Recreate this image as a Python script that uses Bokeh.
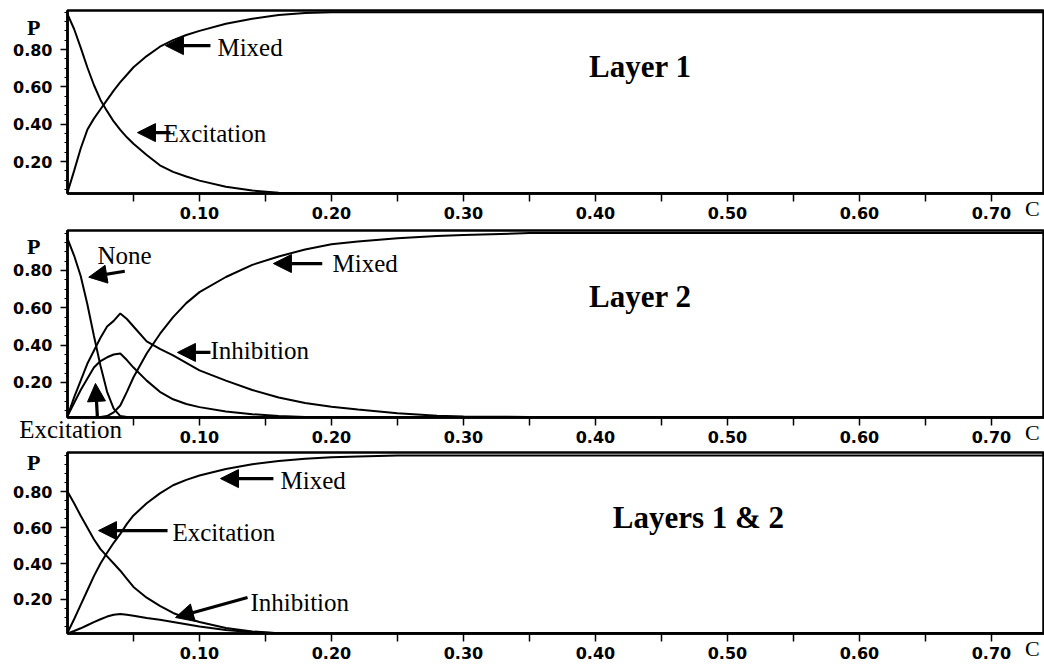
from bokeh.plotting import figure
from bokeh.models import (Range1d, FixedTicker, NumeralTickFormatter, Label, Arrow,
                          NormalHead, LinearAxis, CustomJSTickFormatter)
from bokeh.layouts import column
from bokeh.embed import file_html
from bokeh.resources import INLINE

# ---------------- data ----------------
C_GRID = [0.0, 0.005, 0.01, 0.015, 0.02, 0.025, 0.03, 0.035, 0.04, 0.045,
          0.05, 0.06, 0.07, 0.08, 0.09, 0.10, 0.12, 0.14, 0.16, 0.18,
          0.20, 0.22, 0.25, 0.28, 0.30, 0.35, 0.40, 0.50, 0.60, 0.74]

# Layer 1
L1_EXCITATION = [0.99, 0.91, 0.81, 0.705, 0.61, 0.53, 0.47, 0.415, 0.37, 0.33,
                 0.295, 0.235, 0.18, 0.145, 0.12, 0.098, 0.065, 0.045, 0.033, 0.03,
                 0.03, 0.03, 0.03, 0.03, 0.03, 0.03, 0.03, 0.03, 0.03, 0.03]
L1_MIXED = [0.035, 0.15, 0.27, 0.37, 0.43, 0.48, 0.53, 0.58, 0.625, 0.665,
            0.705, 0.765, 0.815, 0.85, 0.878, 0.90, 0.938, 0.965, 0.985, 0.995,
            1.0, 1.0, 1.0, 1.0, 1.0, 1.0, 1.0, 1.0, 1.0, 1.0]

# Layer 2
L2_NONE = [0.97, 0.88, 0.77, 0.62, 0.45, 0.29, 0.15, 0.06, 0.02, 0.015,
           0.015, 0.015, 0.015, 0.015, 0.015, 0.015, 0.015, 0.015, 0.015, 0.015,
           0.015, 0.015, 0.015, 0.015, 0.015, 0.015, 0.015, 0.015, 0.015, 0.015]
L2_INHIBITION = [0.02, 0.12, 0.21, 0.30, 0.37, 0.44, 0.50, 0.53, 0.57, 0.54,
                 0.50, 0.42, 0.38, 0.345, 0.305, 0.265, 0.21, 0.16, 0.12, 0.09,
                 0.07, 0.055, 0.035, 0.022, 0.018, 0.015, 0.015, 0.015, 0.015, 0.015]
L2_EXCITATION = [0.02, 0.09, 0.16, 0.22, 0.28, 0.315, 0.335, 0.35, 0.355, 0.32,
                 0.28, 0.21, 0.15, 0.11, 0.085, 0.068, 0.045, 0.03, 0.02, 0.015,
                 0.015, 0.015, 0.015, 0.015, 0.015, 0.015, 0.015, 0.015, 0.015, 0.015]
L2_MIXED = [0.015, 0.015, 0.015, 0.015, 0.015, 0.015, 0.02, 0.04, 0.077, 0.15,
            0.228, 0.355, 0.46, 0.55, 0.625, 0.684, 0.765, 0.83, 0.875, 0.912,
            0.94, 0.955, 0.972, 0.985, 0.99, 1.0, 1.0, 1.0, 1.0, 1.0]

# Layers 1 & 2
L12_EXCITATION = [0.80, 0.735, 0.665, 0.60, 0.535, 0.48, 0.44, 0.40, 0.36, 0.315,
                  0.27, 0.21, 0.165, 0.125, 0.097, 0.075, 0.042, 0.022, 0.013, 0.012,
                  0.012, 0.012, 0.012, 0.012, 0.012, 0.012, 0.012, 0.012, 0.012, 0.012]
L12_MIXED = [0.015, 0.09, 0.17, 0.25, 0.33, 0.40, 0.46, 0.515, 0.565, 0.62,
             0.667, 0.735, 0.79, 0.835, 0.865, 0.889, 0.925, 0.952, 0.97, 0.982,
             0.99, 0.995, 1.0, 1.0, 1.0, 1.0, 1.0, 1.0, 1.0, 1.0]
L12_INHIBITION = [0.012, 0.025, 0.04, 0.057, 0.074, 0.09, 0.105, 0.115, 0.12, 0.115,
                  0.11, 0.097, 0.087, 0.075, 0.063, 0.05, 0.03, 0.018, 0.012, 0.012,
                  0.012, 0.012, 0.012, 0.012, 0.012, 0.012, 0.012, 0.012, 0.012, 0.012]

X_TICKS = [0.10, 0.20, 0.30, 0.40, 0.50, 0.60, 0.70]
X_MINOR = [0.05, 0.15, 0.25, 0.35, 0.45, 0.55, 0.65]
Y_TICKS = [0.20, 0.40, 0.60, 0.80]
Y_MINOR = [0.05, 0.10, 0.15, 0.25, 0.30, 0.35, 0.45, 0.50, 0.55,
           0.65, 0.70, 0.75, 0.85, 0.90, 0.95, 1.00]

TITLES = ["Layer 1", "Layer 2", "Layers 1 & 2"]
Y_LABEL = "P"
X_LABEL = "C"

SERIF = "Liberation Serif"
SANS = "DejaVu Sans"
X_MAX = 0.7402
C_LABEL_AT = 0.731


def text_axis(loc, text, font_size, standoff, bold=False):
    """A bare axis (no line, no ticks) that only carries one text label."""
    ax = LinearAxis(ticker=FixedTicker(ticks=[loc], minor_ticks=[]),
                    formatter=CustomJSTickFormatter(code="return %r" % text),
                    axis_line_color=None, major_tick_line_color=None,
                    minor_tick_line_color=None,
                    major_tick_in=0, major_tick_out=0,
                    minor_tick_in=0, minor_tick_out=0,
                    major_label_standoff=standoff,
                    major_label_text_font=SERIF,
                    major_label_text_font_style="bold" if bold else "normal",
                    major_label_text_font_size=font_size,
                    major_label_text_color="black")
    return ax


def make_fig(frame_h, top, bottom, y0, y1, p_at):
    p = figure(frame_width=977, frame_height=frame_h,
               x_range=Range1d(0, X_MAX), y_range=Range1d(y0, y1),
               output_backend="svg", toolbar_location=None,
               min_border_left=67, min_border_right=0,
               min_border_top=top, min_border_bottom=bottom)
    p.xgrid.visible = False
    p.ygrid.visible = False
    p.background_fill_color = "white"
    p.border_fill_color = "white"
    p.outline_line_color = "black"
    p.outline_line_width = 2.5

    xa = p.xaxis[0]
    xa.ticker = FixedTicker(ticks=X_TICKS, minor_ticks=X_MINOR)
    xa.formatter = NumeralTickFormatter(format="0.00")
    xa.major_tick_in = 0
    xa.major_tick_out = 8
    xa.minor_tick_in = 0
    xa.minor_tick_out = 8
    xa.major_label_standoff = 5
    xa.axis_line_width = 2.5
    xa.major_tick_line_width = 1.5
    xa.minor_tick_line_width = 1.5
    xa.major_label_text_font = SANS
    xa.major_label_text_font_style = "bold"
    xa.major_label_text_font_size = "16px"
    xa.major_label_text_color = "black"

    ya = p.yaxis[0]
    ya.ticker = FixedTicker(ticks=Y_TICKS, minor_ticks=Y_MINOR)
    ya.formatter = NumeralTickFormatter(format="0.00")
    ya.major_tick_in = 0
    ya.major_tick_out = 7
    ya.minor_tick_in = 0
    ya.minor_tick_out = 3
    ya.major_label_standoff = 8
    ya.axis_line_width = 2.5
    ya.major_tick_line_width = 1.5
    ya.minor_tick_line_width = 1.2
    ya.major_label_text_font = SANS
    ya.major_label_text_font_style = "bold"
    ya.major_label_text_font_size = "16px"
    ya.major_label_text_color = "black"

    # axis names "P" (top left) and "C" (right end of the tick row)
    p.add_layout(text_axis(p_at, Y_LABEL, "22px", -30, bold=True), "left")
    p.add_layout(text_axis(C_LABEL_AT, X_LABEL, "22px", -26), "below")
    return p


def note(p, x, y, text, size="25px", bold=False, align="left"):
    p.add_layout(Label(x=x, y=y, text=text, text_font=SERIF,
                       text_font_size=size, text_color="black",
                       text_font_style="bold" if bold else "normal",
                       text_align=align, text_baseline="middle"))


def arrow(p, x0, y0, x1, y1):
    p.add_layout(Arrow(end=NormalHead(size=18, fill_color="black", line_color="black"),
                       x_start=x0, y_start=y0, x_end=x1, y_end=y1,
                       line_color="black", line_width=3.2))


def curve(p, ys):
    p.line(C_GRID, ys, line_color="black", line_width=2)


# ---------------- panel 1 ----------------
p1 = make_fig(183, 10, 33, 0.029, 1.009, 0.92)
curve(p1, L1_EXCITATION)
curve(p1, L1_MIXED)
arrow(p1, 0.1083, 0.821, 0.0742, 0.821)
note(p1, 0.1136, 0.81, "Mixed")
arrow(p1, 0.078, 0.355, 0.053, 0.355)
note(p1, 0.0727, 0.352, "Excitation")
note(p1, 0.434, 0.708, TITLES[0], size="31px", bold=True, align="center")

# ---------------- panel 2 ----------------
p2 = make_fig(187, 4, 31, 0.0125, 1.014, 0.926)
curve(p2, L2_NONE)
curve(p2, L2_INHIBITION)
curve(p2, L2_EXCITATION)
curve(p2, L2_MIXED)
note(p2, 0.0227, 0.88, "None")
arrow(p2, 0.0434, 0.796, 0.0161, 0.764)
arrow(p2, 0.1083, 0.361, 0.0833, 0.361)
note(p2, 0.1083, 0.37, "Inhibition")
arrow(p2, 0.193, 0.837, 0.156, 0.837)
note(p2, 0.2008, 0.837, "Mixed")
arrow(p2, 0.0227, 0.0073, 0.0212, 0.195)
note(p2, 0.434, 0.66, TITLES[1], size="31px", bold=True, align="center")
# "Excitation" below the frame, carried by an extra bare axis
p2.add_layout(text_axis(0.0023, "Excitation", "25px", -32), "below")

# ---------------- panel 3 ----------------
p3 = make_fig(181, 4, 33, 0.011, 1.017, 0.96)
curve(p3, L12_EXCITATION)
curve(p3, L12_MIXED)
curve(p3, L12_INHIBITION)
arrow(p3, 0.156, 0.872, 0.1159, 0.872)
note(p3, 0.1614, 0.861, "Mixed")
arrow(p3, 0.0758, 0.583, 0.0235, 0.583)
note(p3, 0.0795, 0.572, "Excitation")
arrow(p3, 0.1364, 0.211, 0.0818, 0.10)
note(p3, 0.1386, 0.183, "Inhibition")
note(p3, 0.478, 0.655, TITLES[2], size="31px", bold=True, align="center")

layout = column(p1, p2, p3, spacing=0)
open("out.html", "w").write(file_html(layout, INLINE))
